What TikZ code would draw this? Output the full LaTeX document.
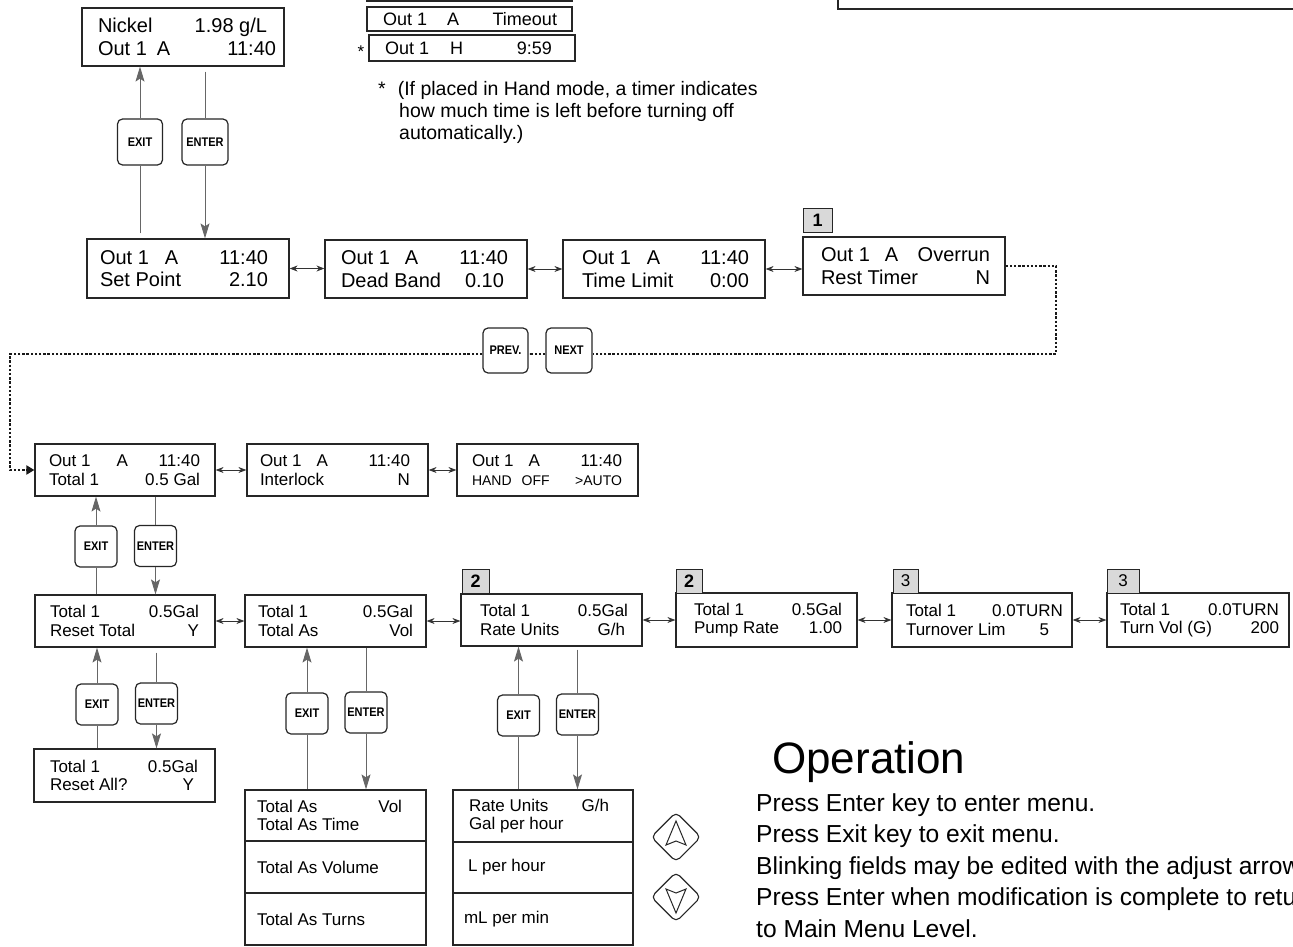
\documentclass[tikz,border=0pt]{standalone}
\usepackage{fontspec}
\usepackage{graphicx}
\setmainfont{Liberation Sans}
\usetikzlibrary{arrows.meta,shapes.geometric}
% right part of a display line
\newcommand{\fillr}{\hskip 0pt plus 1filll\relax}
% key caption, a little condensed
\newcommand{\keycap}[1]{\scalebox{0.88}[1]{#1}}
% display box: name, x1, y1, x2, y2, left inset, right inset, lines
\newcommand{\screen}[9][]{%
  \node[screen,#1,minimum width={#5pt-#3pt},minimum height={#6pt-#4pt}]
    (#2) at ({(#3+#5)/2},{(#4+#6)/2})
    {\hspace*{\dimexpr #7pt-#8pt\relax}\parbox{\dimexpr #5pt-#3pt-#7pt-#8pt\relax}{#9}};}
\begin{document}
\begin{tikzpicture}[x=1pt, y=-1pt,
    screen/.style={draw=black!85, line width=1.2pt, inner sep=0pt,
      font=\fontsize{17}{18.5}\selectfont},
    bigtext/.style={font=\fontsize{20}{22.5}\selectfont},
    keybtn/.style={draw=black!85, line width=1.2pt, rounded corners=5pt, fill=white,
      minimum width=42pt, minimum height=41pt, inner sep=0pt,
      font=\fontsize{12.5}{13}\selectfont\bfseries},
    tagbox/.style={draw=black!85, line width=1pt, fill=black!15, inner sep=0pt,
      minimum height=24pt, font=\fontsize{18}{18}\selectfont},
    adjkey/.style={draw=black!85, line width=1.1pt, diamond, rounded corners=5pt,
      minimum width=50pt, minimum height=50pt, inner sep=0pt},
    glyph/.style={draw=black!85, line width=1pt, line join=miter},
    vline/.style={draw=black!60, line width=0.9pt},
    headed/.style={-{Stealth[length=15pt,width=9pt,inset=3pt]}},
    dbl/.style={draw=black!80, line width=0.8pt,
      {Stealth[length=8pt,width=6pt]}-{Stealth[length=8pt,width=6pt]}},
    dotline/.style={draw=black!90, line width=2.8pt, dash pattern=on 2.4pt off 1.8pt}]
  \useasboundingbox (0,0) rectangle (1293,947);

  % boxes cut by the page edge
  \draw[line width=1.2pt, black!85] (367,-20) rectangle (572,1);
  \draw[line width=1.2pt, black!85] (838,-20) rectangle (1320,9);

  % main menu level
  \screen[bigtext]{nickel}{82}{8}{284}{66}{16}{8}{Nickel\fillr 1.98 g/L\hspace*{9pt}\\Out 1\hspace{10pt}A\fillr 11:40}
  \screen[bigtext]{setpoint}{87}{239}{289}{298}{13}{21}{Out 1\hspace{16pt}A\fillr 11:40\\Set Point\fillr 2.10}
  \screen[bigtext]{deadband}{325}{240}{527}{298}{16}{19}{Out 1\hspace{15pt}A\fillr 11:40\\Dead Band\fillr 0.10\hspace*{4pt}}
  \screen[bigtext]{timelimit}{563}{240}{765}{298}{19}{16}{Out 1\hspace{16pt}A\fillr 11:40\\Time Limit\fillr 0:00}
  \screen[bigtext]{overrun}{803}{237}{1005}{295}{18}{15}{Out 1\hspace{15pt}A\fillr Overrun\\Rest Timer\fillr N}
  \node[tagbox, minimum width=29pt] (tagone) at (817.5,220) {\bfseries 1};

  % output states
  \screen[font=\fontsize{18}{20}\selectfont]{timeout}{367}{7}{572}{31}{16}{15}{Out 1\hspace{20pt}A\fillr Timeout}
  \screen[font=\fontsize{18}{20}\selectfont]{handtimer}{369}{35}{575}{61}{16}{23}{Out 1\hspace{21pt}H\fillr 9:59}
  \node[font=\fontsize{17}{17}\selectfont] (star) at (361,52) {*};
  \node[anchor=north west, align=left, inner sep=0pt, font=\fontsize{19.5}{22}\selectfont]
    (note) at (378,81) {*\hspace{12pt}(If placed in Hand mode, a timer indicates\\
      \hspace*{21pt}how much time is left before turning off\\
      \hspace*{21pt}automatically.)};

  % output menu
  \screen{outtotal}{35}{444}{215}{496}{14}{15}{Out 1\hspace{26pt}A\fillr 11:40\\Total 1\fillr 0.5 Gal}
  \screen{interlock}{247}{444}{428}{496}{13}{18}{Out 1\hspace{15pt}A\fillr 11:40\\Interlock\fillr N}
  \screen{handoff}{457}{444}{638}{496}{15}{16}{Out 1\hspace{15pt}A\fillr 11:40\\{\fontsize{14}{15}\selectfont HAND\hspace{10pt}OFF\fillr >AUTO}}

  % totalizer menu
  \screen{resettotal}{35}{595}{215}{647}{15}{16}{Total 1\fillr 0.5Gal\\Reset Total\fillr Y}
  \screen{totalas}{245}{595}{426}{647}{13}{13}{Total 1\fillr 0.5Gal\\Total As\fillr Vol}
  \screen{rateunits}{461}{594}{642}{646}{19}{14}{Total 1\fillr 0.5Gal\\Rate Units\fillr G/h\hspace*{3pt}}
  \screen{pumprate}{676}{593}{857}{647}{18}{15}{Total 1\fillr 0.5Gal\\Pump Rate\fillr 1.00}
  \screen{turnover}{892}{593}{1072}{647}{14}{9}{Total 1\fillr 0.0TURN\\Turnover Lim\fillr 5\hspace*{14pt}}
  \screen{turnvol}{1107}{593}{1289}{647}{13}{10}{Total 1\fillr 0.0TURN\\Turn Vol (G)\fillr 200}
  \node[tagbox, minimum width=27pt] (tagtwoa) at (475.5,581.5) {\bfseries 2};
  \node[tagbox, minimum width=26pt] (tagtwob) at (689,581) {\bfseries 2};
  \node[tagbox, minimum width=25pt, font=\fontsize{17}{17}\selectfont] (tagthreea) at (905.5,581) {3};
  \node[tagbox, minimum width=32pt, font=\fontsize{17}{17}\selectfont] (tagthreeb) at (1123,581) {3};

  % sub menus
  \screen{resetall}{34}{749}{215}{802}{16}{17}{Total 1\fillr 0.5Gal\\Reset All?\fillr Y\hspace*{4pt}}
  \screen{asvol}{245}{790}{426}{841}{12}{24}{Total As\fillr Vol\\Total As Time}
  \screen{asvolume}{245}{841}{426}{893}{12}{12}{Total As Volume}
  \screen{asturns}{245}{893}{426}{945}{12}{12}{Total As Turns}
  \screen{ratelist}{453}{790}{633}{842}{16}{24}{Rate Units\fillr G/h\\Gal per hour}
  \screen{lperhour}{453}{842}{633}{893}{15}{15}{L per hour}
  \screen{mlpermin}{453}{893}{633}{945}{11}{11}{mL per min}

  % keys
  \node[keybtn, minimum width=45pt, minimum height=46pt] (exita) at (140,142) {\keycap{EXIT}};
  \node[keybtn, minimum width=46pt, minimum height=46pt] (enta) at (205,142) {\keycap{ENTER}};
  \node[keybtn, minimum width=45pt, minimum height=45pt] (prev) at (505.5,350.5) {\keycap{PREV.}};
  \node[keybtn, minimum width=46pt, minimum height=45pt] (next) at (569,350.5) {\keycap{NEXT}};
  \node[keybtn] (exitb) at (96,546.5) {\keycap{EXIT}};
  \node[keybtn] (entb) at (155.5,546) {\keycap{ENTER}};
  \node[keybtn] (exitc) at (97,704.5) {\keycap{EXIT}};
  \node[keybtn] (entc) at (156.5,703.5) {\keycap{ENTER}};
  \node[keybtn] (exitd) at (307,713.5) {\keycap{EXIT}};
  \node[keybtn] (entd) at (366,712.5) {\keycap{ENTER}};
  \node[keybtn] (exite) at (518.5,715.5) {\keycap{EXIT}};
  \node[keybtn] (ente) at (577.5,714.5) {\keycap{ENTER}};

  % adjust keys
  \node[adjkey] (up) at (676,837) {};
  \node[adjkey] (down) at (676,897) {};
  \draw[glyph] (up.center) ++(0,-16) -- ++(10,24) -- ++(-10,-4) -- ++(-10,4) -- cycle;
  \draw[glyph] (down.center) ++(0,16) -- ++(10,-24) -- ++(-10,4) -- ++(-10,-4) -- cycle;

  % enter / exit paths
  \draw[vline, shorten <=5pt] (setpoint.north -| exita) -- (exita.south);
  \draw[vline, headed] (exita.north) -- (nickel.south -| exita);
  \draw[vline, shorten <=5pt] (nickel.south -| enta) -- (enta.north);
  \draw[vline, headed] (enta.south) -- (setpoint.north -| enta);
  \draw[vline] (resettotal.north -| exitb) -- (exitb.south);
  \draw[vline, headed] (exitb.north) -- (outtotal.south -| exitb);
  \draw[vline] (outtotal.south -| entb) -- (entb.north);
  \draw[vline, headed] (entb.south) -- (resettotal.north -| entb);
  \draw[vline] (resetall.north -| exitc) -- (exitc.south);
  \draw[vline, headed] (exitc.north) -- (resettotal.south -| exitc);
  \draw[vline, shorten <=5pt] (resettotal.south -| entc) -- (entc.north);
  \draw[vline, headed] (entc.south) -- (resetall.north -| entc);
  \draw[vline] (asvol.north -| exitd) -- (exitd.south);
  \draw[vline, headed] (exitd.north) -- (totalas.south -| exitd);
  \draw[vline] (totalas.south -| entd) -- (entd.north);
  \draw[vline, headed] (entd.south) -- (asvol.north -| entd);
  \draw[vline] (ratelist.north -| exite) -- (exite.south);
  \draw[vline, headed] (exite.north) -- (rateunits.south -| exite);
  \draw[vline, shorten <=3pt] (rateunits.south -| ente) -- (ente.north);
  \draw[vline, headed] (ente.south) -- (ratelist.north -| ente);

  % prev / next
  \draw[dbl] (setpoint.east) -- (setpoint.east -| deadband.west);
  \draw[dbl] (deadband.east) -- (deadband.east -| timelimit.west);
  \draw[dbl] (timelimit.east) -- (timelimit.east -| overrun.west);
  \draw[dbl] (outtotal.east) -- (outtotal.east -| interlock.west);
  \draw[dbl] (interlock.east) -- (interlock.east -| handoff.west);
  \draw[dbl] (resettotal.east) -- (resettotal.east -| totalas.west);
  \draw[dbl] (totalas.east) -- (totalas.east -| rateunits.west);
  \draw[dbl] (rateunits.east) -- (rateunits.east -| pumprate.west);
  \draw[dbl] (pumprate.east) -- (pumprate.east -| turnover.west);
  \draw[dbl] (turnover.east) -- (turnover.east -| turnvol.west);

  \coordinate (turn) at (1056,354);
  \coordinate (back) at (10,354);
  \draw[dotline] (overrun.east) -| (turn) -- (turn -| next.east);
  \draw[dotline] (next.west |- turn) -- (turn -| prev.east);
  \draw[dotline, -{Triangle[length=8pt,width=9pt]}] (prev.west |- turn) -- (back) |- (outtotal.west);

  % operation notes
  \node[anchor=base west, inner sep=0pt, font=\fontsize{44}{44}\selectfont] (optitle) at (772,773) {Operation};
  \node[anchor=north west, align=left, inner sep=0pt, font=\fontsize{24.6}{31.5}\selectfont]
    (optext) at (756,793) {Press Enter key to enter menu.\\
      Press Exit key to exit menu.\\
      Blinking fields may be edited with the adjust arrows.\\
      Press Enter when modification is complete to return\\
      to Main Menu Level.};
\end{tikzpicture}
\end{document}
